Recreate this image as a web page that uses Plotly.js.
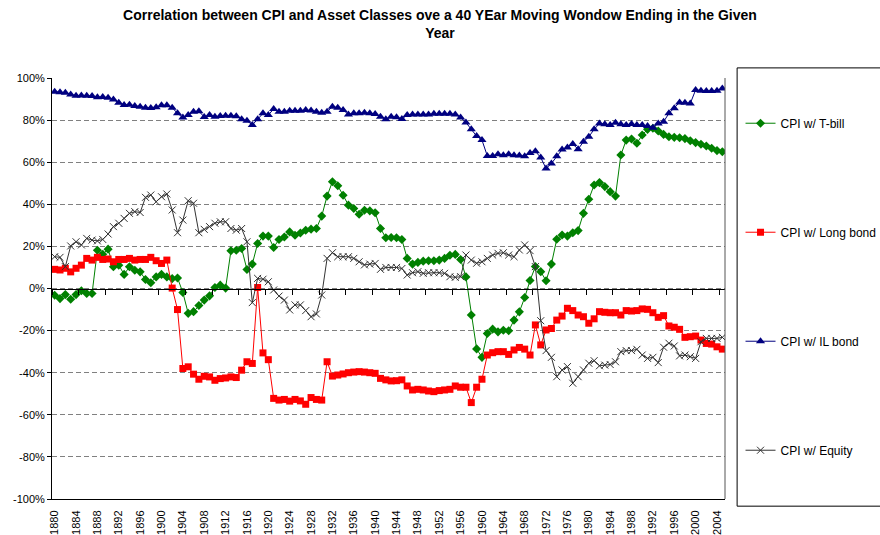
<!DOCTYPE html>
<html><head><meta charset="utf-8">
<script src="https://cdn.plot.ly/plotly-3.0.1.min.js"></script>
<style>html,body{margin:0;padding:0;background:#fff}#chart{width:880px;height:535px}</style>
</head><body><div id="chart"></div>
<script>
const years = [1880,1881,1882,1883,1884,1885,1886,1887,1888,1889,1890,1891,1892,1893,1894,1895,1896,1897,1898,1899,
1900,1901,1902,1903,1904,1905,1906,1907,1908,1909,1910,1911,1912,1913,1914,1915,1916,1917,1918,1919,
1920,1921,1922,1923,1924,1925,1926,1927,1928,1929,1930,1931,1932,1933,1934,1935,1936,1937,1938,1939,
1940,1941,1942,1943,1944,1945,1946,1947,1948,1949,1950,1951,1952,1953,1954,1955,1956,1957,1958,1959,
1960,1961,1962,1963,1964,1965,1966,1967,1968,1969,1970,1971,1972,1973,1974,1975,1976,1977,1978,1979,
1980,1981,1982,1983,1984,1985,1986,1987,1988,1989,1990,1991,1992,1993,1994,1995,1996,1997,1998,1999,
2000,2001,2002,2003,2004,2005];

const tbill = [-3.2,-4.8,-2.9,-5.1,-2.9,-1.1,-2.4,-2.4,18.2,16.3,18.7,10.3,11.1,6.7,10.3,8.7,7.9,4.3,2.7,5.5,
6.7,5.5,4.7,5.0,-1.9,-11.8,-11.0,-8.1,-5.5,-3.5,0.5,1.6,0.2,17.9,18.2,19.0,9.0,11.6,21.4,24.9,
24.9,19.5,23.3,24.5,26.9,25.3,26.4,27.7,28.2,28.5,34.4,43.9,50.7,48.8,44.3,39.6,38.0,35.3,37.2,36.9,
36.0,28.5,24.1,24.2,24.1,23.3,14.3,11.6,12.4,13.0,13.2,13.2,13.5,14.3,15.8,16.2,13.8,5.5,-12.6,-28.7,
-32.7,-21.4,-19.3,-20.6,-19.8,-20.1,-15.0,-11.1,-4.3,3.8,10.4,8.0,3.7,11.6,23.4,25.4,24.9,26.5,27.5,35.7,
42.4,49.2,50.3,48.4,46.0,43.9,63.4,70.5,71.0,69.0,72.9,75.6,76.1,74.8,73.2,72.1,71.8,71.6,71.2,70.2,
69.3,68.5,67.7,66.6,65.5,65.0];

const longBond = [9.1,8.8,9.6,7.9,9.6,11.1,14.3,13.5,14.8,13.8,14.0,12.7,13.8,13.8,14.3,13.5,13.8,13.8,14.8,13.2,
11.9,13.5,0.2,-10.0,-38.0,-37.2,-40.7,-43.1,-41.7,-42.0,-43.6,-42.8,-42.5,-42.0,-42.3,-38.8,-34.8,-35.6,0.5,-30.6,
-33.8,-52.2,-53.0,-52.7,-53.5,-52.7,-53.4,-55.0,-51.8,-52.7,-53.0,-34.8,-41.6,-41.1,-40.6,-40.0,-39.7,-39.5,-39.7,-40.0,
-40.3,-42.7,-43.4,-43.9,-43.8,-43.4,-46.3,-48.2,-47.9,-48.2,-48.7,-49.0,-48.5,-48.2,-47.9,-46.3,-46.9,-46.9,-54.2,-46.9,
-43.1,-31.6,-30.5,-30.0,-30.0,-31.3,-29.2,-28.0,-28.8,-31.6,-17.3,-26.8,-19.7,-19.0,-15.0,-13.1,-9.4,-10.5,-12.6,-13.4,
-16.5,-14.4,-11.0,-11.3,-11.5,-11.5,-12.6,-10.5,-10.7,-10.5,-9.7,-9.9,-11.5,-13.7,-12.9,-17.8,-18.4,-19.4,-23.2,-22.9,
-22.6,-24.5,-26.1,-26.4,-27.7,-28.8];

const ilBond = [93.5,93.2,93.0,92.2,91.6,91.7,91.6,91.4,90.9,91.0,90.6,89.8,88.2,87.2,87.3,86.7,86.4,85.9,85.8,86.1,
87.0,87.0,85.9,83.2,81.2,82.4,84.0,84.2,81.5,82.4,81.6,82.0,82.1,82.1,81.8,80.4,79.7,77.7,80.4,83.2,
82.4,85.3,84.0,84.0,84.5,84.5,84.5,84.8,84.6,84.0,83.5,84.0,86.4,85.9,84.8,82.7,83.2,83.2,83.5,83.2,
82.9,81.6,80.4,81.6,81.3,80.5,82.4,82.7,82.7,82.7,82.7,83.0,83.0,83.0,83.0,82.7,81.2,78.9,75.6,72.4,
70.5,63.0,63.0,63.8,63.3,63.8,63.3,63.2,62.8,64.4,65.2,62.2,57.0,59.4,62.8,66.0,67.0,68.6,66.2,69.7,
72.1,75.6,78.4,78.0,77.7,78.8,78.0,77.7,78.1,77.7,77.7,77.2,76.4,78.4,79.2,83.2,85.6,88.4,88.2,87.9,
94.3,94.0,93.8,93.8,94.0,95.0];

const equity = [15.1,14.8,10.4,20.2,22.2,20.7,23.8,23.0,22.6,23.3,25.9,29.4,31.0,33.3,35.7,36.5,36.1,43.3,44.4,41.2,
43.6,44.9,37.3,26.5,32.5,41.7,40.5,26.5,28.1,29.4,31.0,31.7,31.7,28.5,27.7,28.5,22.2,-6.7,4.8,4.4,
3.2,-0.7,-3.6,-5.5,-10.2,-7.8,-7.8,-10.5,-13.4,-12.1,-3.1,14.3,17.0,15.1,15.1,15.1,14.3,12.7,11.2,11.6,
11.9,9.1,10.0,10.0,10.0,9.5,6.4,7.5,8.0,7.2,7.5,7.5,7.5,7.2,5.6,5.3,5.6,15.9,13.5,12.0,
12.7,14.3,15.9,16.7,17.0,15.9,15.1,18.3,20.7,18.0,10.4,-15.3,-29.5,-32.7,-41.9,-38.7,-37.1,-45.0,-41.9,-38.7,
-35.5,-34.3,-36.7,-36.4,-36.1,-34.8,-30.0,-29.5,-29.5,-28.9,-31.6,-33.2,-32.7,-35.2,-27.9,-26.0,-27.3,-32.0,-31.6,-32.4,
-33.2,-25.3,-23.7,-23.7,-23.7,-23.2];

const seriesNames = ['CPI w/ T-bill','CPI w/ Long bond','CPI w/ IL bond','CPI w/ Equity'];
const yTickVals = [-100,-80,-60,-40,-20,0,20,40,60,80,100];
const yTickText = ['-100%','-80%','-60%','-40%','-20%','0%','20%','40%','60%','80%','100%'];

const labelYears = years.filter((y, i) => i % 4 === 0);
const tickMarks = years.filter((y, i) => i % 5 === 0).map(y => y - 0.5);
const xRange = [years[0] - 0.5, years[years.length - 1] + 0.5];

const FONT = 'Liberation Sans, Arial, sans-serif';

function mk(name, y, color, symbol, size, group, extra) {
  return Object.assign({
    type: 'scatter', mode: 'lines+markers', name: name, x: years, y: y,
    legendgroup: group,
    line: {color: color, width: 1},
    marker: {symbol: symbol, size: size, color: color, line: {width: 0}}
  }, extra || {});
}

const traces = [
  mk(seriesNames[0], tbill, '#008000', 'diamond', 7, 'g1'),
  mk(seriesNames[1], longBond, '#FF0000', 'square', 7, 'g2'),
  mk(seriesNames[2], ilBond, '#000080', 'triangle-up', 8, 'g3'),
  mk(seriesNames[3], equity, '#333333', 'x-thin-open', 7, 'g4', {marker: {symbol: 'x-thin-open', size: 7, color: '#333333', line: {width: 1, color: '#333333'}}}),
  {type: 'scatter', x: [], y: [], xaxis: 'x2', yaxis: 'y', showlegend: false, hoverinfo: 'skip'}
];

const layout = {
  width: 880, height: 535,
  paper_bgcolor: '#ffffff', plot_bgcolor: '#ffffff',
  font: {family: FONT, size: 11, color: '#000'},
  margin: {l: 52, r: 155, t: 78, b: 36, autoexpand: false},
  title: {
    text: 'Correlation between CPI and Asset Classes ove a 40 YEar Moving Wondow Ending in the Given<br>Year',
    font: {family: FONT, size: 14, color: '#000', weight: 'bold'},
    x: 0.5, xref: 'container', xanchor: 'center',
    y: 0.9635, yref: 'container', yanchor: 'middle'
  },
  showlegend: true,
  legend: {
    x: 0.8415, xref: 'container', xanchor: 'left', y: 0.927, yanchor: 'top',
    tracegroupgap: 90, traceorder: 'grouped',
    font: {family: FONT, size: 12, color: '#000'},
    bgcolor: 'rgba(0,0,0,0)', borderwidth: 0, itemwidth: 30
  },
  xaxis: {
    range: xRange, tickmode: 'array', tickvals: labelYears, ticktext: labelYears.map(String),
    tickangle: -90, ticks: '', showgrid: false, zeroline: false,
    showline: true, linecolor: '#000', linewidth: 1,
    tickfont: {family: FONT, size: 11, color: '#000'}, ticklabelstandoff: 6,
    fixedrange: true
  },
  xaxis2: {
    range: xRange, overlaying: 'x', anchor: 'free', position: 0.5,
    tickmode: 'array', tickvals: tickMarks, ticks: 'outside', ticklen: 5, tickcolor: '#000', tickwidth: 1,
    showticklabels: false, showgrid: false, zeroline: false,
    showline: true, linecolor: '#000', linewidth: 1
  },
  yaxis: {
    range: [-100, 100], tickmode: 'array', tickvals: yTickVals, ticktext: yTickText,
    ticks: 'outside', ticklen: 4, tickcolor: '#000',
    showgrid: true, gridcolor: '#808080', gridwidth: 1, griddash: '5px,3px',
    zeroline: false, showline: true, linecolor: '#000', linewidth: 1,
    tickfont: {family: FONT, size: 11, color: '#000'}, fixedrange: true
  },
  shapes: [
    {type: 'line', xref: 'paper', yref: 'paper', x0: 1, x1: 1, y0: 0, y1: 1, line: {color: '#555', width: 1}},
    {type: 'rect', xref: 'paper', yref: 'paper', x0: 1.018, x1: 1.25, y0: -0.017, y1: 1.024, line: {color: '#000', width: 1}, fillcolor: 'rgba(0,0,0,0)'}
  ]
};

Plotly.newPlot('chart', traces, layout, {staticPlot: true, displayModeBar: false});
</script>
</body></html>
